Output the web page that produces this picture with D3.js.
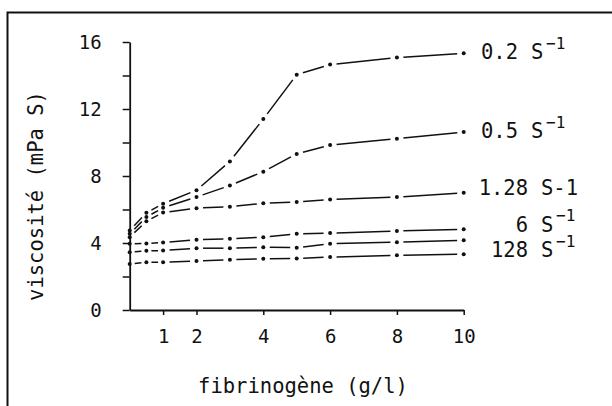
<!DOCTYPE html>
<html>
<head>
<meta charset="utf-8">
<script src="https://cdn.jsdelivr.net/npm/d3@7"></script>
<style>
  body { margin: 0; background: #fff; }
  svg { display: block; }
  text { font-family: "DejaVu Sans Mono", "Liberation Mono", monospace; fill: #111; }
</style>
</head>
<body>
<div id="container"></div>
<script>
// fibrinogen concentration (g/l)
var fibrinogen = [0, 0.5, 1, 2, 3, 4, 5, 6, 8, 10];

// viscosity (mPa S) at each shear rate
var visc02  = [4.75, 5.8, 6.35, 7.15, 8.87, 11.4, 14.05, 14.65, 15.07, 15.33];
var visc05  = [4.55, 5.55, 6.1, 6.75, 7.43, 8.26, 9.32, 9.85, 10.23, 10.62];
var visc128 = [4.35, 5.3, 5.82, 6.08, 6.17, 6.37, 6.45, 6.59, 6.74, 7.0];
var visc6   = [3.95, 3.97, 4.03, 4.2, 4.25, 4.35, 4.55, 4.59, 4.72, 4.82];
var visc64  = [3.45, 3.53, 3.55, 3.69, 3.69, 3.75, 3.72, 3.96, 4.05, 4.16];
var visc128b = [2.75, 2.85, 2.85, 2.93, 3.0, 3.06, 3.08, 3.16, 3.27, 3.33];

// labels: number, unit, superscript
var seriesLabels = [
    ["0.2", "S", "\u22121"],
    ["0.5", "S", "\u22121"],
    ["1.28", "S-1", ""],
    ["6", "S", "\u22121"],
    ["", "", ""],
    ["128", "S", "\u22121"]
];

var xTicks = [1, 2, 4, 6, 8, 10];
var yTicks = [0, 2, 4, 6, 8, 10, 12, 14, 16];
var yTickLabels = [0, 4, 8, 12, 16];

var series = [visc02, visc05, visc128, visc6, visc64, visc128b];
// label placement: vertical nudge from line end, x of the "S"
var labelShift = [-1, -1, -5, -4.5, 0, -4];
var labelS = [531, 531, 541, 541, 0, 541];

var width = 612, height = 406;

var svg = d3.select("#container").append("svg")
    .attr("width", width)
    .attr("height", height);

// frame (runs off the right and bottom of the picture)
svg.append("path")
    .attr("d", "M7.5,410 L7.5,12.5 L616,12.5")
    .attr("fill", "none")
    .attr("stroke", "#111")
    .attr("stroke-width", 2);

var x = d3.scaleLinear().domain([0, 10]).range([129.7, 463.7]);
var y = d3.scaleLinear().domain([0, 16]).range([310, 42]);

// y axis
var yAxis = svg.append("g")
    .attr("transform", "translate(" + x(0) + ",0)")
    .call(d3.axisLeft(y).tickValues(yTicks).tickSize(7).tickSizeOuter(0)
        .tickFormat(function (d) { return yTickLabels.indexOf(d) >= 0 ? d : ""; }));
yAxis.select(".domain").attr("stroke", "#111").attr("stroke-width", 1.8);
yAxis.selectAll(".tick line").attr("stroke", "#111").attr("stroke-width", 1.5);
yAxis.selectAll(".tick text")
    .attr("x", -28)
    .attr("dy", "0.35em")
    .style("font-size", "19px")
    .style("font-family", "DejaVu Sans Mono");

// x axis
var xAxis = svg.append("g")
    .attr("transform", "translate(0," + y(0) + ")")
    .call(d3.axisBottom(x).tickValues(xTicks).tickSize(5).tickSizeOuter(0));
xAxis.select(".domain").attr("stroke", "#111").attr("stroke-width", 1.8);
xAxis.selectAll(".tick line").attr("stroke", "#111").attr("stroke-width", 1.5);
xAxis.selectAll(".tick text")
    .attr("y", 26)
    .attr("dy", "0.35em")
    .style("font-size", "19px")
    .style("font-family", "DejaVu Sans Mono");

// axis titles
svg.append("text")
    .attr("x", 303)
    .attr("y", 386)
    .attr("dy", "0.35em")
    .attr("text-anchor", "middle")
    .style("font-size", "20.5px")
    .text("fibrinog\u00e8ne (g/l)");

svg.append("text")
    .attr("transform", "translate(36,196) rotate(-90)")
    .attr("dy", "0.35em")
    .attr("text-anchor", "middle")
    .style("font-size", "20.5px")
    .text("viscosit\u00e9 (mPa S)");

// dash-dot curves: dot on each point, dash between
var gap = 6.5;
var marks = svg.append("g");

series.forEach(function (values, i) {
    var pts = fibrinogen.map(function (f, j) { return [x(f), y(values[j])]; });

    for (var j = 0; j < pts.length - 1; j++) {
        var p0 = pts[j], p1 = pts[j + 1];
        var dx = p1[0] - p0[0], dy = p1[1] - p0[1];
        var len = Math.sqrt(dx * dx + dy * dy);
        var g = Math.min(gap, len * 0.3);
        var ux = dx / len, uy = dy / len;
        marks.append("line")
            .attr("x1", p0[0] + ux * g)
            .attr("y1", p0[1] + uy * g)
            .attr("x2", p1[0] - ux * g)
            .attr("y2", p1[1] - uy * g)
            .attr("stroke", "#111")
            .attr("stroke-width", 1.5);
    }

    marks.selectAll(null)
        .data(pts)
        .enter().append("circle")
        .attr("cx", function (d) { return d[0]; })
        .attr("cy", function (d) { return d[1]; })
        .attr("r", 2)
        .attr("fill", "#111");

    var lab = seriesLabels[i];
    if (lab[0] === "") return;

    var ly = y(values[values.length - 1]) + labelShift[i];
    var sx = labelS[i];

    svg.append("text")
        .attr("x", sx - 13)
        .attr("y", ly)
        .attr("dy", "0.35em")
        .attr("text-anchor", "end")
        .style("font-size", "20.5px")
        .text(lab[0]);

    svg.append("text")
        .attr("x", sx)
        .attr("y", ly)
        .attr("dy", "0.35em")
        .style("font-size", "20.5px")
        .text(lab[1]);

    if (lab[2] !== "") {
        svg.append("text")
            .attr("x", sx + 15)
            .attr("y", ly - 9)
            .attr("dy", "0.35em")
            .style("font-size", "16px")
            .text(lab[2]);
    }
});
</script>
</body>
</html>
